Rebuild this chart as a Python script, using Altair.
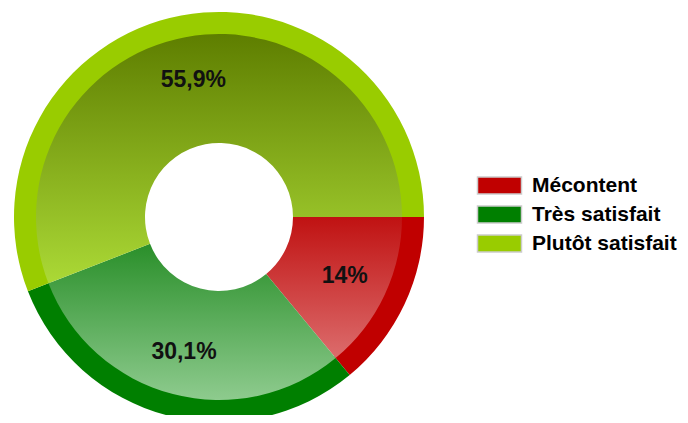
import math
import altair as alt
import pandas as pd

categories = ["Mécontent", "Très satisfait", "Plutôt satisfait"]
values = [14.0, 30.1, 55.9]
labels = ["14%", "30,1%", "55,9%"]
ring_colors = ["#c00000", "#007f00", "#99cc00"]
grad_top = ["#c01212", "#2a8f2a", "#5e7e00"]
grad_bottom = ["#dc6c6c", "#8ecb8e", "#abd936"]

df = pd.DataFrame({"cat": categories, "value": values, "label": labels,
                   "order": list(range(len(categories)))})

CX, CY = 211, 209
theta_scale = alt.Scale(domain=[0, 100], range=[math.pi / 2, math.pi / 2 + 2 * math.pi])

base = alt.Chart(df).transform_window(
    v1="sum(value)", sort=[alt.SortField("order")], frame=[None, 0]
).transform_calculate(
    v0="datum.v1 - datum.value", mid="datum.v1 - datum.value / 2"
)

ring = base.mark_arc(x=CX, y=CY, outerRadius=205, innerRadius=181).encode(
    theta=alt.Theta("v0:Q", scale=theta_scale),
    theta2="v1:Q",
    color=alt.Color(
        "cat:N",
        scale=alt.Scale(domain=categories, range=ring_colors),
        legend=alt.Legend(
            title=None, orient="none", legendX=480, legendY=166,
            symbolType="M-2.095,-0.81H2.095V0.81H-2.095Z", symbolSize=441,
            symbolStrokeColor="#cccccc", symbolStrokeWidth=1.5, symbolOpacity=1,
            labelFont="Liberation Sans", labelFontSize=21, labelFontWeight="bold",
            labelColor="#000000", rowPadding=4, labelOffset=21, padding=0,
        ),
    ),
)

layers = [ring]
for i, c in enumerate(categories):
    grad = {
        "gradient": "linear", "x1": 0, "y1": 0, "x2": 0, "y2": 1,
        "stops": [{"offset": 0, "color": grad_top[i]},
                  {"offset": 1, "color": grad_bottom[i]}],
    }
    layers.append(
        base.transform_filter(alt.datum.cat == c)
        .mark_arc(x=CX, y=CY, outerRadius=183, innerRadius=74, fill=grad)
        .encode(theta=alt.Theta("v0:Q", scale=theta_scale), theta2="v1:Q")
    )

text = base.mark_text(
    x=CX, y=CY, radius=139, font="Liberation Sans", fontSize=23,
    fontWeight="bold", color="#111111",
).encode(theta=alt.Theta("mid:Q", scale=theta_scale), text="label:N")
layers.append(text)

chart = alt.layer(*layers).properties(
    width=672, height=407, padding=0,
    autosize=alt.AutoSizeParams(type="none"),
).configure_view(stroke=None)

chart.save("out.html", embed_options={"renderer": "svg", "actions": False})
